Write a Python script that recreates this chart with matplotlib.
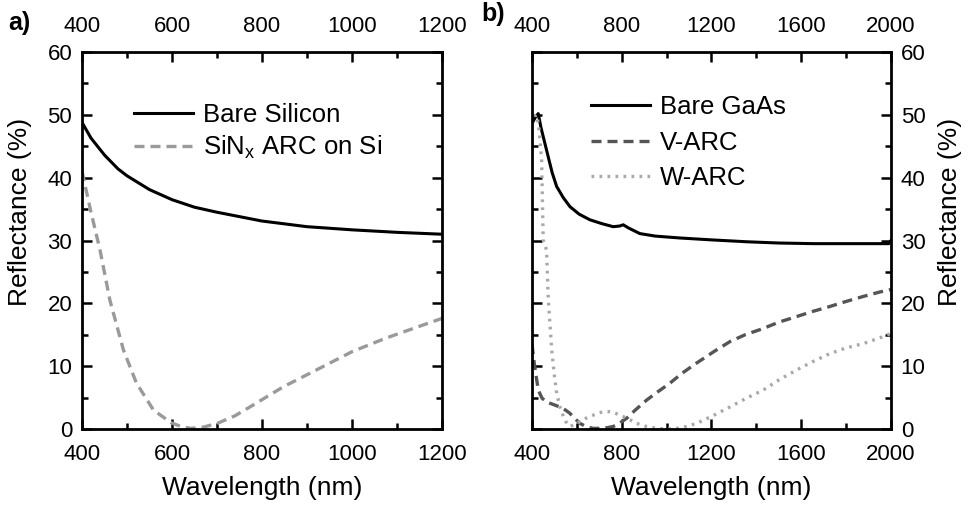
import matplotlib
matplotlib.use("Agg")
import matplotlib.pyplot as plt
from matplotlib.ticker import MultipleLocator

plt.rcParams['font.family'] = ['Liberation Sans', 'DejaVu Sans']
plt.rcParams['mathtext.fontset'] = 'custom'
plt.rcParams['mathtext.rm'] = 'Liberation Sans'
plt.rcParams['mathtext.it'] = 'Liberation Sans'

# panel a: silicon
si_wl = [400, 420, 450, 480, 500, 550, 600, 650, 700, 800, 900, 1000, 1100, 1200]
si_bare = [48.8, 46.3, 43.6, 41.4, 40.3, 38.1, 36.5, 35.3, 34.5, 33.1, 32.2, 31.7, 31.3, 31.0]

arc_wl = [400, 420, 440, 462, 492, 521, 559, 598, 620, 642, 670, 701, 740, 773, 810, 847, 921,
          1000, 1073, 1148, 1200]
arc_si = [41.0, 34.5, 28.5, 20.5, 12.6, 7.3, 3.0, 1.0, 0.4, 0.1, 0.3, 0.9, 2.1, 3.5, 5.1, 6.7, 9.4,
          12.3, 14.4, 16.3, 17.6]

# panel b: GaAs
gaas_wl = [400, 415, 428, 440, 465, 490, 510, 540, 569, 610, 658, 710, 762, 790, 807, 830, 881,
           950, 1060, 1200, 1357, 1500, 1654, 1800, 1990, 2000]
gaas_bare = [48.6, 49.6, 50.2, 48.0, 44.4, 40.8, 38.6, 36.8, 35.4, 34.2, 33.3, 32.7, 32.2, 32.3,
             32.5, 32.0, 31.1, 30.7, 30.4, 30.1, 29.8, 29.6, 29.5, 29.5, 29.5, 30.0]

varc_wl = [400, 410, 428, 445, 465, 495, 525, 550, 569, 590, 614, 640, 672, 720, 762, 790, 822,
           860, 911, 960, 1015, 1070, 1134, 1210, 1282, 1350, 1431, 1500, 1580, 1650, 1728, 1800,
           1877, 1950, 2000]
varc = [13.5, 10.5, 6.2, 4.9, 4.3, 3.9, 3.5, 3.0, 2.5, 1.7, 0.9, 0.4, 0.1, 0.1, 0.4, 0.9, 1.7,
        3.0, 4.6, 5.9, 7.3, 8.9, 10.5, 12.3, 13.9, 15.0, 16.0, 17.0, 17.9, 18.7, 19.5, 20.3,
        21.1, 21.8, 22.2]

warc_wl = [400, 412, 422, 432, 443, 450, 465, 473, 488, 500, 510, 525, 540, 555, 569, 590, 614,
           640, 673, 700, 732, 760, 792, 830, 866, 910, 956, 1000, 1045, 1090, 1134, 1200, 1282,
           1350, 1431, 1500, 1580, 1650, 1728, 1800, 1877, 1950, 2000]
warc = [48.5, 49.8, 50.0, 47.5, 42.8, 30.1, 28.5, 20.5, 12.6, 8.5, 5.7, 3.5, 2.0, 0.9, 0.4, 0.7, 1.2,
        1.7, 2.2, 2.6, 2.8, 2.7, 2.2, 1.6, 0.9, 0.4, 0.1, 0.0, 0.1, 0.4, 0.9, 2.0, 3.5,
        4.8, 6.2, 7.8, 9.4, 10.7, 12.0, 12.9, 13.6, 14.5, 15.2]


def style_axes(ax, xmin, xmax, xmajor, xminor, side):
    ax.set_xlim(xmin, xmax)
    ax.set_ylim(0, 60)
    ax.xaxis.set_major_locator(MultipleLocator(xmajor))
    ax.xaxis.set_minor_locator(MultipleLocator(xminor))
    ax.yaxis.set_major_locator(MultipleLocator(10))
    ax.yaxis.set_minor_locator(MultipleLocator(5))
    ax.tick_params(which='both', direction='in', top=True, bottom=True, left=True, right=True,
                   labeltop=True, labelbottom=True, width=1.8, labelsize=16)
    ax.tick_params(axis='x', which='both', pad=11)
    ax.tick_params(axis='y', which='both', pad=7)
    ax.tick_params(which='major', length=7)
    ax.tick_params(which='minor', length=4)
    for s in ax.spines.values():
        s.set_linewidth(2)
    ax.set_xlabel('Wavelength (nm)', fontsize=19, labelpad=8)
    ax.set_ylabel('Reflectance (%)', fontsize=19)
    if side == 'right':
        ax.tick_params(labelleft=False, labelright=True)
        ax.yaxis.set_label_position('right')
        ax.yaxis.set_label_coords(1.13, 0.575)
    else:
        ax.yaxis.set_label_coords(-0.14, 0.575)


fig = plt.figure(figsize=(9.75, 5.05), dpi=100)
ax1 = fig.add_axes([0.0841, 0.1505, 0.3692, 0.7465])
ax2 = fig.add_axes([0.5456, 0.1505, 0.3682, 0.7465])

ax1.plot(si_wl, si_bare, color='black', lw=2.2, label='Bare Silicon')
ax1.plot(arc_wl, arc_si, color='#9a9a9a', lw=2.4, dashes=(3, 1.8), label='SiN$_\\mathregular{x}$ ARC on Si')
style_axes(ax1, 400, 1200, 200, 100, 'left')
ax1.legend(loc='upper left', bbox_to_anchor=(0.108, 0.9), frameon=False, fontsize=18.5,
           handlelength=2.3, handletextpad=0.4, labelspacing=0.3, borderpad=0)

ax2.plot(gaas_wl, gaas_bare, color='black', lw=2.2, label='Bare GaAs')
ax2.plot(varc_wl, varc, color='#555555', lw=2.4, dashes=(3, 1.8), label='V-ARC')
ax2.plot(warc_wl, warc, color='#a8a8a8', lw=2.4, dashes=(0.8, 1.6), label='W-ARC')
style_axes(ax2, 400, 2000, 400, 200, 'right')
ax2.legend(loc='upper left', bbox_to_anchor=(0.128, 0.92), frameon=False, fontsize=18.5,
           handlelength=2.3, handletextpad=0.4, labelspacing=0.45, borderpad=0)

fig.text(0.008, 0.955, 'a)', fontsize=18, fontweight='bold', ha='left', va='center')
fig.text(0.494, 0.972, 'b)', fontsize=18, fontweight='bold', ha='left', va='center')

fig.savefig('out.png', dpi=100)
